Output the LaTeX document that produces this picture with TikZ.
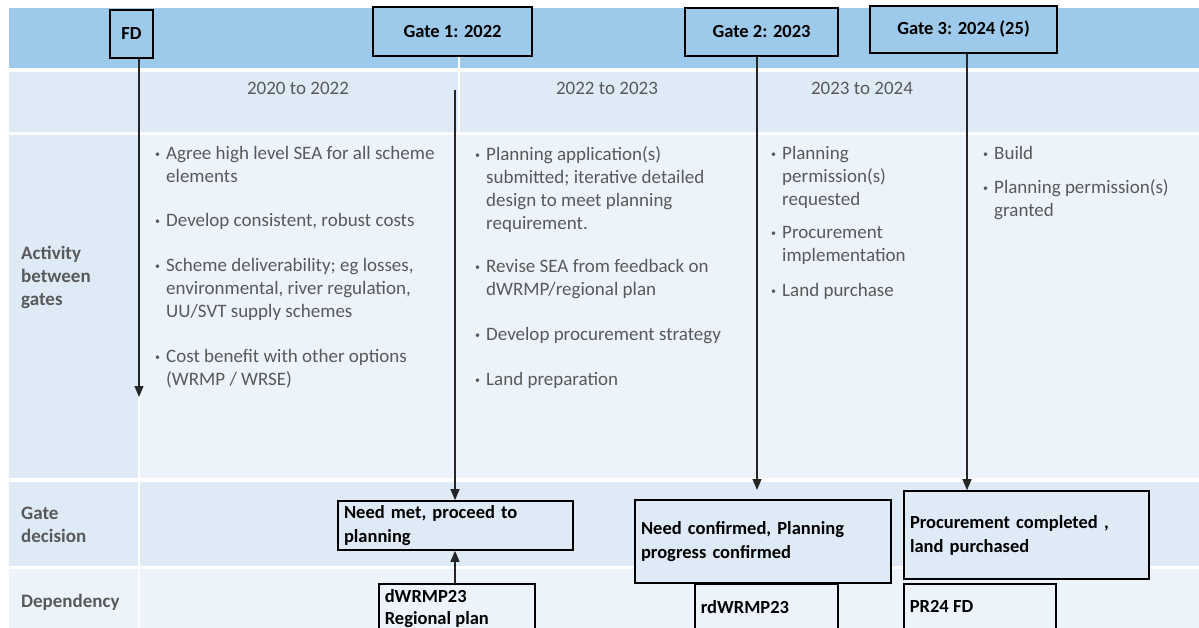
\documentclass[tikz,border=0pt]{standalone}
\usepackage{fontspec}
\setmainfont{Carlito}
\usetikzlibrary{arrows.meta, positioning}
\definecolor{hdrblue}{RGB}{157,201,234}
\definecolor{rowblue}{RGB}{222,235,247}
\definecolor{paleblue}{RGB}{236,243,251}
\definecolor{txtgray}{RGB}{89,89,89}
\newcommand{\bul}{\llap{\raisebox{2pt}{\fontsize{10}{10}\selectfont •}\hspace{6pt}}}

\begin{document}
\begin{tikzpicture}[x=1pt,y=-1pt,
	gatebox/.style={draw,line width=1.6pt,fill=hdrblue,inner sep=0pt,font=\bfseries\fontsize{18.5}{22}\selectfont},
	decbox/.style={draw,line width=1.6pt,fill=rowblue,align=left,inner xsep=6pt,font=\bfseries\fontsize{18.5}{24}\selectfont},
	depbox/.style={draw,line width=1.6pt,fill=paleblue,anchor=north west,inner xsep=6pt,font=\bfseries\fontsize{18.5}{22}\selectfont},
	rowlabel/.style={anchor=north west,align=left,inner sep=0pt,text=txtgray,font=\bfseries\fontsize{19}{23}\selectfont},
	yearlabel/.style={inner sep=0pt,text=txtgray,font=\fontsize{19}{22}\selectfont},
	item/.style={anchor=north west,align=left,inner sep=0pt,text=txtgray,font=\fontsize{19}{23}\selectfont},
	arr/.style={-{Triangle[length=11pt,width=9pt]},line width=1.1pt,black!85}]
	\clip (0,0) rectangle (1199,628);
	\fill[white] (0,0) rectangle (1199,628);
	\fill[hdrblue] (9,8) rectangle (1199,68);
	\fill[rowblue] (9,72) rectangle (1199,132);
	\fill[rowblue] (9,135) rectangle (137.5,478);
	\fill[paleblue] (140,135) rectangle (1199,478);
	\fill[rowblue] (9,482) rectangle (1199,566);
	\fill[paleblue] (9,569) rectangle (1199,628);
	\draw[white,line width=2pt] (459,8) -- (459,132);
	\draw[white,line width=2pt] (757,8) -- (757,132);
	\draw[white,line width=2pt] (967,8) -- (967,132);
	\draw[white,line width=2pt] (139,482) -- (139,628);
	
	\node[rowlabel] (lact) at (21,246) {Activity\\between\\gates};
	\node[rowlabel] (ldec) at (21,507) {Gate\\decision};
	\node[rowlabel] (ldep) at (21,594) {Dependency};
	
	\node[yearlabel] (yra) at (298,88.5) {2020 to 2022};
	\node[yearlabel] (yrb) at (607,88.5) {2022 to 2023};
	\node[yearlabel] (yrc) at (862,88.5) {2023 to 2024};
	
	\node[item] (a1) at (166,146.5) {\bul Agree high level SEA for all scheme\\elements};
	\node[item] (a2) at (166,213.5) {\bul Develop consistent, robust costs};
	\node[item] (a3) at (166,258.5) {\bul Scheme deliverability; eg losses,\\environmental, river regulation,\\UU/SVT supply schemes};
	\node[item] (a4) at (166,349.5) {\bul Cost benefit with other options\\(WRMP / WRSE)};
	
	\node[item] (b1) at (486,146.5) {\bul Planning application(s)\\submitted; iterative detailed\\design to meet planning\\requirement.};
	\node[item] (b2) at (486,259.5) {\bul Revise SEA from feedback on\\dWRMP/regional plan};
	\node[item] (b3) at (486,327.5) {\bul Develop procurement strategy};
	\node[item] (b4) at (486,372.5) {\bul Land preparation};
	
	\node[item] (c1) at (782,146.5) {\bul Planning\\permission(s)\\requested};
	\node[item] (c2) at (782,226.5) {\bul Procurement\\implementation};
	\node[item] (c3) at (782,283.5) {\bul Land purchase};
	
	\node[item] (d1) at (994,146.5) {\bul Build};
	\node[item] (d2) at (994,179.5) {\bul Planning permission(s)\\granted};
	
	\node[gatebox,minimum width=43pt,minimum height=48pt] (gfd) at (131.5,34) {FD};
	\node[gatebox,minimum width=159pt,minimum height=49pt] (gone) at (452.5,31.5) {Gate 1: 2022};
	\node[gatebox,minimum width=153pt,minimum height=48pt] (gtwo) at (761.5,32) {Gate 2: 2023};
	\node[gatebox,minimum width=187pt,minimum height=47pt] (gthree) at (963.5,29.5) {Gate 3: 2024 (25)};
	
	\node[decbox,text width=223pt,minimum height=49pt] (dec1) at (455.5,525.5) {Need met, proceed to\\planning};
	\node[decbox,text width=244pt,minimum height=83pt] (dec2) at (763,541.5) {Need confirmed, Planning\\progress confirmed};
	\node[decbox,text width=233pt,minimum height=88pt] (dec3) at (1026.5,535) {Procurement completed ,\\land purchased};
	
	\node[depbox,inner ysep=6pt] (dep1) at (378,583) {\parbox[t][40pt][t]{144pt}{dWRMP23\\Regional plan}};
	\node[depbox,inner ysep=17pt] (dep2) at (694,583) {\parbox[t][30pt][t]{131pt}{rdWRMP23}};
	\node[depbox,inner ysep=17pt] (dep3) at (903,583) {\parbox[t][30pt][t]{140pt}{PR24 FD}};
	
	\coordinate (fdend) at (139,397);
	\coordinate (g1start) at (455,90);
	\coordinate (g2end) at (757,490);
	\coordinate (g3x) at (967,0);
	\draw[arr] (gfd.south -| fdend) -- (fdend);
	\draw[arr] (g1start) -- (g1start |- dec1.north);
	\draw[arr] (dep1.north -| g1start) -- (g1start |- dec1.south);
	\draw[arr] (gtwo.south -| g2end) -- (g2end);
	\draw[arr] (gthree.south -| g3x) -- (g3x |- dec3.north);
\end{tikzpicture}
\end{document}
